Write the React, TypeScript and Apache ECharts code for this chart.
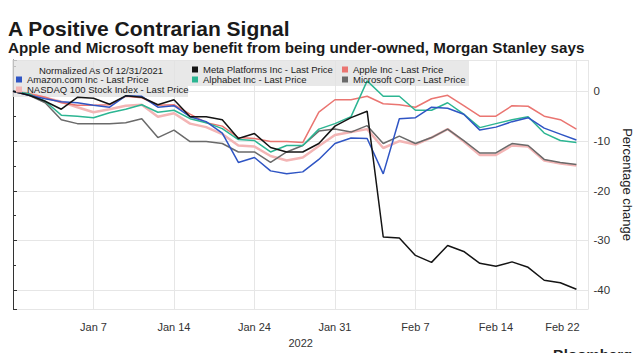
import React, { useEffect, useRef } from "react";
import * as echarts from "echarts";

const FONT = "'Liberation Sans', Arial, sans-serif";

// trading days, index 0 = normalization date
const dates = [
  "Dec 31", "Jan 3", "Jan 4", "Jan 5", "Jan 6", "Jan 7", "Jan 10", "Jan 11", "Jan 12", "Jan 13",
  "Jan 14", "Jan 18", "Jan 19", "Jan 20", "Jan 21", "Jan 24", "Jan 25", "Jan 26", "Jan 27", "Jan 28",
  "Jan 31", "Feb 1", "Feb 2", "Feb 3", "Feb 4", "Feb 7", "Feb 8", "Feb 9", "Feb 10", "Feb 11",
  "Feb 14", "Feb 15", "Feb 16", "Feb 17", "Feb 18", "Feb 22",
];

const meta = [0, -0.8, -2, -3.6, -1.2, -1.4, -2.6, -0.9, -1.2, -2.7, -1.7, -5.1, -5.1, -5.7, -9.5, -8.5, -11.3, -12.2, -12.2, -10.5, -7, -5.3, -4, -29.3, -29.5, -33, -34.4, -31, -32.2, -34.6, -35.2, -34.3, -35.4, -38, -38.5, -39.8];
const amazon = [0, -0.8, -1.5, -2.1, -2.3, -2.8, -3.2, -0.9, -1.0, -3.2, -2.9, -5.1, -6.1, -8.4, -14.3, -13.3, -16, -16.6, -16.2, -13.7, -10.5, -9.4, -9.5, -16.6, -5.5, -5.3, -3.2, -3.4, -4.6, -7.8, -7.2, -6.1, -5.3, -7.4, -8.6, -9.8];
const apple = [0, -0.5, -1.2, -2.3, -2.8, -2.8, -2.7, -1, -1.3, -2.8, -2.7, -4.6, -6.3, -7, -9.3, -9.5, -10.1, -10.1, -10.3, -4.2, -1.7, -1.7, -1, -2.5, -2.7, -3.2, -1.5, -0.8, -2.9, -5, -5, -2.9, -3, -5, -5.7, -7.6];
const alphabet = [0, -0.5, -2, -4.8, -5, -5.3, -4.3, -3.6, -2.7, -4.2, -3.8, -5.5, -6.3, -7.5, -9.7, -9.9, -12.2, -10.9, -10.9, -7.6, -6.5, -5.1, 2.1, -1, -1, -3.8, -3.8, -2.3, -4.6, -7.3, -6.5, -5.7, -5.1, -8.4, -9.9, -10.3];
const microsoft = [0, -0.8, -2.3, -5.7, -6.5, -6.5, -6.5, -6.3, -5.5, -9.3, -7.8, -10.1, -10.1, -10.5, -12.2, -12.2, -14.3, -12.2, -10.9, -8, -7.6, -8.2, -6.9, -10.5, -9, -10.5, -9.3, -7.6, -9.9, -12.4, -12.4, -10.5, -10.9, -13.7, -14.3, -14.7];
const nasdaq = [0, -0.5, -1.3, -2.1, -3.2, -4.2, -3.6, -2.9, -2.7, -5.1, -4.4, -6.5, -7.2, -8.6, -10.9, -11.1, -13, -13.9, -13.3, -11, -8.8, -8.2, -7.6, -11.4, -10, -10.7, -9.3, -7.6, -10.1, -12.8, -12.8, -10.9, -11.1, -13.9, -14.5, -14.9];

const NAMES = {
  meta: "Meta Platforms Inc - Last Price",
  amazon: "Amazon.com Inc - Last Price",
  apple: "Apple Inc - Last Price",
  alphabet: "Alphabet Inc - Last Price",
  microsoft: "Microsoft Corp - Last Price",
  nasdaq: "NASDAQ 100 Stock Index - Last Price",
};

const toPairs = (arr: number[]) => arr.map((v, i) => [i, v]);

function leg(name: string, left: number, top: number) {
  return {
    data: [name],
    left,
    top,
    icon: "rect",
    itemWidth: 6,
    itemHeight: 6,
    padding: 0,
    itemGap: 0,
    selectedMode: false,
    itemStyle: { borderWidth: 0 },
    textStyle: { fontSize: 9.5, color: "#222", fontFamily: FONT },
  };
}

function line(name: string, arr: number[], color: string, width = 1.5) {
  return {
    name,
    type: "line",
    data: toPairs(arr),
    showSymbol: false,
    symbol: "none",
    lineStyle: { color, width },
    itemStyle: { color },
    emphasis: { disabled: true },
    z: 3,
  };
}

export default function App() {
  const ref = useRef<HTMLDivElement>(null);
  useEffect(() => {
    if (!ref.current) return;
    const chart = echarts.init(ref.current, null, { renderer: "svg", width: 642, height: 353 });
    const option = {
      animation: false,
      backgroundColor: "#ffffff",
      textStyle: { fontFamily: FONT },
      grid: { left: 13, right: 51, top: 60, bottom: 30 },
      xAxis: {
        type: "value",
        min: 0,
        max: 35.75,
        interval: 5,
        axisLine: { show: false },
        axisTick: { show: false },
        splitLine: { show: true, lineStyle: { color: "#e6e6e6", width: 1 } },
        axisLabel: {
          fontSize: 11,
          color: "#333",
          margin: 12,
          formatter: (v: number) => {
            if (!Number.isInteger(v) || v <= 0 || v % 5 !== 0) return "";
            const d = dates[v] || "";
            if (v === dates.length - 1) return "{r|" + d + "}";
            return d;
          },
          rich: { r: { fontSize: 11, color: "#333", padding: [0, 28, 0, 0] } },
        },
        name: "2022",
        nameLocation: "middle",
        nameGap: 23,
        nameTextStyle: { fontSize: 11, color: "#333" },
      },
      yAxis: {
        type: "value",
        position: "right",
        min: -43.8,
        max: 6.3,
        splitNumber: 5,
        axisLine: { show: true, lineStyle: { color: "#333", width: 1 } },
        axisTick: { show: true, inside: false, length: 4, lineStyle: { color: "#333" } },
        minorTick: { show: true, splitNumber: 2, length: 3, lineStyle: { color: "#333" } },
        splitLine: { show: true, lineStyle: { color: "#e6e6e6", width: 1 } },
        axisLabel: { showMinLabel: false, showMaxLabel: false, fontSize: 11.5, color: "#333", margin: 5 },
        name: "Percentage change",
        nameLocation: "middle",
        nameRotate: -90,
        nameGap: 26,
        nameTextStyle: { fontSize: 13, color: "#222" },
      },
      legend: [
        leg(NAMES.amazon, 16, 74.5),
        leg(NAMES.nasdaq, 16, 84.5),
        leg(NAMES.meta, 192, 64.5),
        leg(NAMES.alphabet, 192, 74.5),
        leg(NAMES.apple, 342, 64.5),
        leg(NAMES.microsoft, 342, 74.5),
      ],
      graphic: [
        { type: "rect", z: 1, shape: { x: 12, y: 60, width: 457, height: 26 }, style: { fill: "rgba(226,226,226,0.8)" } },
        { type: "rect", z: 1, shape: { x: 12, y: 86, width: 176, height: 11 }, style: { fill: "rgba(226,226,226,0.8)" } },
        {
          type: "text", z: 10, left: 8, top: 18,
          style: { text: "A Positive Contrarian Signal", font: "bold 21px " + FONT, fill: "#1a1a1a" },
        },
        {
          type: "text", z: 10, left: 8, top: 40,
          style: { text: "Apple and Microsoft may benefit from being under-owned, Morgan Stanley says", font: "bold 15.2px " + FONT, fill: "#1a1a1a" },
        },
        {
          type: "text", z: 10, x: 101, y: 70,
          style: { text: "Normalized As Of 12/31/2021", font: "9.5px " + FONT, fill: "#222", align: "center", verticalAlign: "middle" },
        },
        {
          type: "text", z: 10, left: 553, top: 347,
          style: { text: "Bloomberg", font: "bold 15px " + FONT, fill: "#222" },
        },
      ],
      series: [
        line(NAMES.nasdaq, nasdaq, "#f3b5b5", 2.5),
        line(NAMES.microsoft, microsoft, "#6a6a6a"),
        line(NAMES.apple, apple, "#ea7571"),
        line(NAMES.alphabet, alphabet, "#2cb592"),
        line(NAMES.amazon, amazon, "#2f55c4"),
        line(NAMES.meta, meta, "#141414"),
      ],
    };
    chart.setOption(option as any);
    return () => chart.dispose();
  }, []);
  return (
    <div
      ref={ref}
      style={{ position: "absolute", left: 0, top: 0, width: 642, height: 353, background: "#fff" }}
    />
  );
}
